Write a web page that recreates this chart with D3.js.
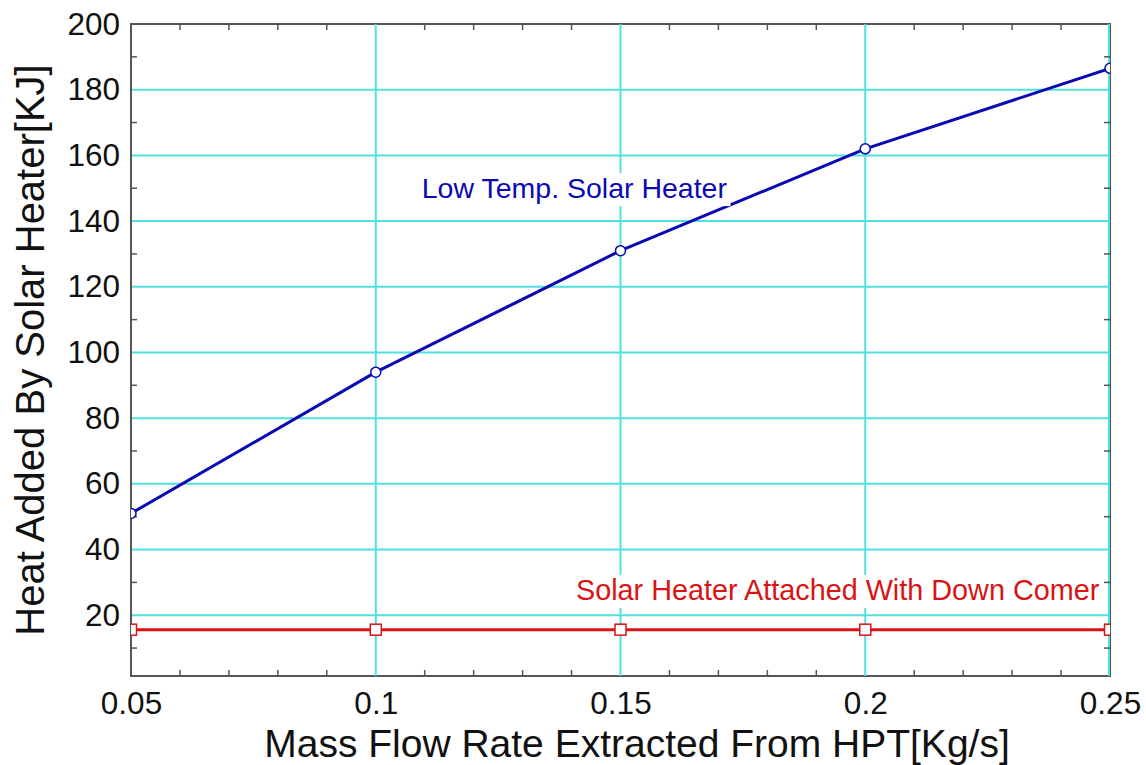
<!DOCTYPE html>
<html>
<head>
<meta charset="utf-8">
<script src="https://cdn.jsdelivr.net/npm/d3@7"></script>
<style>
  html, body { margin: 0; padding: 0; background: #fff; }
  svg { display: block; font-family: "Liberation Sans", Arial, sans-serif; }
</style>
</head>
<body>
<script>
const flowRate = [0.05, 0.1, 0.15, 0.2, 0.25];
const lowTempHeat = [51, 94, 131, 162, 186.5];
const downComerHeat = [15.6, 15.6, 15.6, 15.6, 15.6];

const xTickValues = [0.05, 0.1, 0.15, 0.2, 0.25];
const yTickValues = [20, 40, 60, 80, 100, 120, 140, 160, 180, 200];
const xMinor = [0.06, 0.07, 0.08, 0.09, 0.11, 0.12, 0.13, 0.14, 0.16, 0.17, 0.18, 0.19, 0.21, 0.22, 0.23, 0.24];
const yMinor = [10, 30, 50, 70, 90, 110, 130, 150, 170, 190];

const xTitle = "Mass Flow Rate Extracted From HPT[Kg/s]";
const yTitle = "Heat Added By Solar Heater[KJ]";
const lowTempLabel = "Low Temp. Solar Heater";
const downComerLabel = "Solar Heater Attached With Down Comer";

const width = 1146;
const height = 765;
const marginLeft = 131;
const marginRight = 36;
const marginTop = 24;
const marginBottom = 89;

const gridColor = "#4fe0e0";
const frameColor = "#555";
const blue = "#0a0ab4";
const red = "#d81414";

const x = d3.scaleLinear([0.05, 0.25], [marginLeft, width - marginRight]);
const y = d3.scaleLinear([1.5, 200], [height - marginBottom, marginTop]);

const svg = d3.select("body")
  .append("svg")
  .attr("width", width)
  .attr("height", height)
  .attr("viewBox", [0, 0, width, height]);

svg.append("defs").append("clipPath")
  .attr("id", "plot")
  .append("rect")
  .attr("x", x(0.05))
  .attr("y", y(200))
  .attr("width", x(0.25) - x(0.05))
  .attr("height", y(1.5) - y(200));

// grid
svg.append("g")
  .attr("stroke", gridColor)
  .attr("stroke-width", 2)
  .selectAll("line")
  .data(yTickValues.filter(d => d < 200))
  .join("line")
  .attr("x1", x(0.05))
  .attr("x2", x(0.25))
  .attr("y1", d => y(d))
  .attr("y2", d => y(d));

// frame
svg.append("rect")
  .attr("x", x(0.05))
  .attr("y", y(200))
  .attr("width", x(0.25) - x(0.05))
  .attr("height", y(1.5) - y(200))
  .attr("fill", "none")
  .attr("stroke", frameColor)
  .attr("stroke-width", 2);

svg.append("g")
  .attr("stroke", gridColor)
  .attr("stroke-width", 2)
  .selectAll("line")
  .data(xTickValues.filter(d => d > 0.05))
  .join("line")
  .attr("x1", d => x(d) - (d === 0.25 ? 1 : 0))
  .attr("x2", d => x(d) - (d === 0.25 ? 1 : 0))
  .attr("y1", y(200))
  .attr("y2", y(1.5));

// minor ticks, inward on all four sides
const tickLen = 6;
const ticks = svg.append("g").attr("stroke", frameColor).attr("stroke-width", 1.5);
ticks.selectAll(".tb")
  .data(xMinor)
  .join("line")
  .attr("class", "tb")
  .attr("x1", d => x(d)).attr("x2", d => x(d))
  .attr("y1", y(1.5)).attr("y2", y(1.5) - tickLen);
ticks.selectAll(".tt")
  .data(xMinor)
  .join("line")
  .attr("class", "tt")
  .attr("x1", d => x(d)).attr("x2", d => x(d))
  .attr("y1", y(200)).attr("y2", y(200) + tickLen);
ticks.selectAll(".tl")
  .data(yMinor)
  .join("line")
  .attr("class", "tl")
  .attr("y1", d => y(d)).attr("y2", d => y(d))
  .attr("x1", x(0.05)).attr("x2", x(0.05) + tickLen);
ticks.selectAll(".tr")
  .data(yMinor)
  .join("line")
  .attr("class", "tr")
  .attr("y1", d => y(d)).attr("y2", d => y(d))
  .attr("x1", x(0.25)).attr("x2", x(0.25) - tickLen);

// axis labels
const xAxis = d3.axisBottom(x).tickValues(xTickValues).tickFormat(d => String(d)).tickSize(0).tickPadding(16);
const yAxis = d3.axisLeft(y).tickValues(yTickValues).tickFormat(d => String(d)).tickSize(0).tickPadding(11);

svg.append("g")
  .attr("transform", `translate(0,${height - marginBottom})`)
  .call(xAxis)
  .call(g => g.select(".domain").remove())
  .call(g => g.selectAll("text").attr("font-size", 31.5).attr("fill", "#111").attr("font-family", null));

svg.append("g")
  .attr("transform", `translate(${marginLeft},0)`)
  .call(yAxis)
  .call(g => g.select(".domain").remove())
  .call(g => g.selectAll("text").attr("font-size", 31.5).attr("fill", "#111").attr("font-family", null));

svg.append("text")
  .attr("x", 637)
  .attr("y", 757)
  .attr("text-anchor", "middle")
  .attr("font-size", 39)
  .attr("fill", "#111")
  .text(xTitle);

svg.append("text")
  .attr("transform", `translate(44,${(y(1.5) + y(200)) / 2}) rotate(-90)`)
  .attr("text-anchor", "middle")
  .attr("font-size", 40)
  .attr("fill", "#111")
  .text(yTitle);

// series lines
const plot = svg.append("g").attr("clip-path", "url(#plot)");

function drawLine(values, color) {
  const line = d3.line()
    .x(i => x(flowRate[i]))
    .y(i => y(values[i]));
  plot.append("path")
    .attr("fill", "none")
    .attr("stroke", color)
    .attr("stroke-width", 3)
    .attr("stroke-linejoin", "round")
    .attr("d", line(d3.range(values.length)));
}

drawLine(lowTempHeat, blue);
drawLine(downComerHeat, red);

// labels with white boxes
function addLabel(text, xv, yv, color, size) {
  const g = svg.append("g");
  const bg = g.append("rect").attr("fill", "#fff");
  const t = g.append("text")
    .attr("x", x(xv))
    .attr("y", y(yv))
    .attr("font-size", size)
    .attr("fill", color)
    .text(text);
  const b = t.node().getBBox();
  bg.attr("x", b.x - 3).attr("y", b.y + 1).attr("width", b.width + 6).attr("height", b.height + 1);
}

addLabel(lowTempLabel, 0.1094, 147, blue, 28.5);
addLabel(downComerLabel, 0.1409, 24.6, red, 28.8);

// markers
plot.append("g")
  .attr("fill", "#fff")
  .attr("stroke", blue)
  .attr("stroke-width", 1.5)
  .selectAll("circle")
  .data(d3.range(flowRate.length))
  .join("circle")
  .attr("cx", i => x(flowRate[i]))
  .attr("cy", i => y(lowTempHeat[i]))
  .attr("r", 5);

const sq = 11;
plot.append("g")
  .attr("fill", "#fff")
  .attr("stroke", red)
  .attr("stroke-width", 1.5)
  .selectAll("rect")
  .data(d3.range(flowRate.length))
  .join("rect")
  .attr("x", i => x(flowRate[i]) - sq / 2)
  .attr("y", i => y(downComerHeat[i]) - sq / 2)
  .attr("width", sq)
  .attr("height", sq);
</script>
</body>
</html>
